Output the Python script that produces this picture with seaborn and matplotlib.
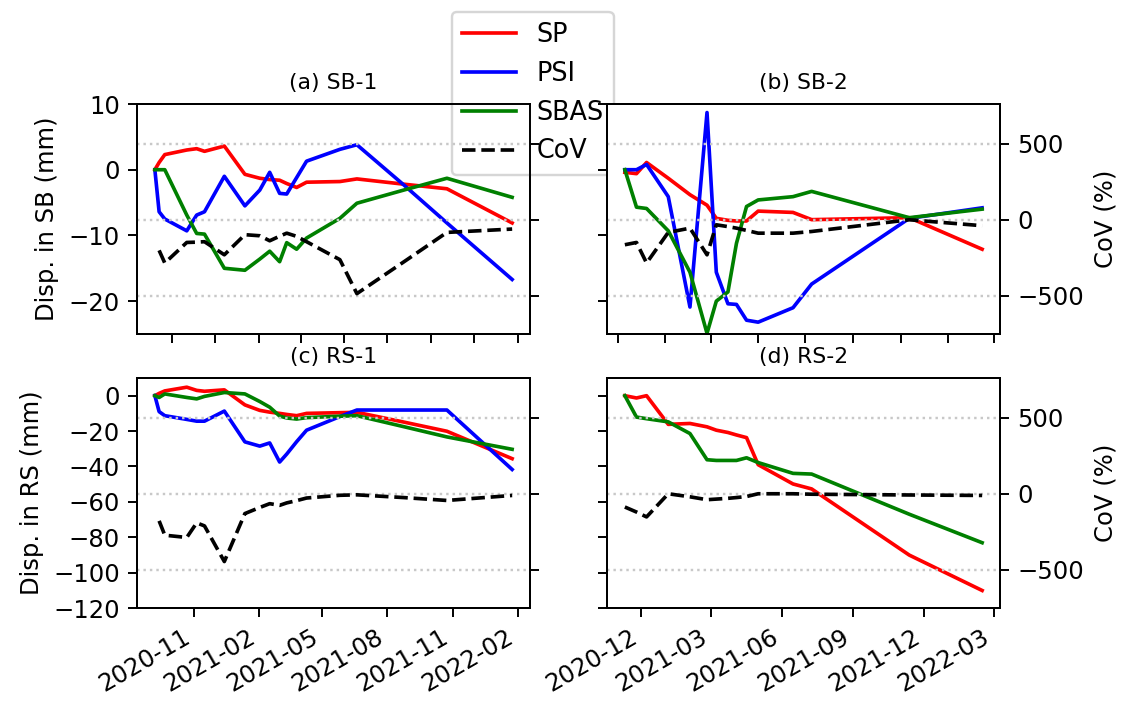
import numpy as np
import pandas as pd
import matplotlib
matplotlib.use("Agg")
import matplotlib.pyplot as plt
import matplotlib.dates as mdates
import seaborn as sns

nan = np.nan

# ---------------- data ----------------
dates_1 = ["2020-09-07", "2020-09-13", "2020-09-21", "2020-10-22", "2020-11-05",
           "2020-11-16", "2020-12-14", "2021-01-12", "2021-02-02", "2021-02-16",
           "2021-03-02", "2021-03-12", "2021-03-26", "2021-04-09", "2021-05-26",
           "2021-06-19", "2021-08-24", "2021-10-24", "2022-01-24"]
dates_2 = ["2020-11-10", "2020-11-25", "2020-12-08", "2021-01-05", "2021-02-02",
           "2021-02-24", "2021-03-08", "2021-03-23", "2021-04-03", "2021-04-16",
           "2021-05-01", "2021-06-15", "2021-07-09", "2021-11-12", "2022-02-14"]

sb1_sp = [0, 1.1, 2.3, 3.0, 3.2, 2.8, 3.6, -0.7, -1.3, -1.5, -1.6, -2.1, -2.7, -1.9, -1.8, -1.4, -2.2, -2.9, -8.1]
sb1_psi = [0, -6.4, -7.5, -9.3, -6.9, -6.4, -1.0, -5.5, -3.1, -0.4, -3.6, -3.7, -1.2, 1.3, 3.1, 3.8, -2.3, -8.1, -16.7]
sb1_sbas = [0, 0, 0, -6.9, -9.7, -9.8, -15.0, -15.3, -13.6, -12.4, -14.0, -11.1, -12.1, -10.4, -7.4, -5.1, -3.1, -1.3, -4.2]
sb1_cov = [nan, -201, -284, -149, -147, -144, -230, -98, -105, -138, -108, -88, -109, -144, -262, -485, -277, -83, -61]

sb2_sp = [-0.4, -0.6, 1.1, -1.3, -3.8, -5.4, -7.4, -7.7, -7.8, -7.8, -6.3, -6.5, -7.6, -7.3, -12.1]
sb2_psi = [0, 0, 0.8, -4.1, -20.9, 8.7, -15.6, -20.4, -20.5, -22.9, -23.2, -21.0, -17.4, -7.4, -5.8]
sb2_sbas = [0, -5.7, -5.9, -9.3, -15.6, -24.9, -20.0, -18.6, -11.2, -5.6, -4.6, -4.1, -3.3, -7.3, -6.0]
sb2_cov = [-164, -149, -284, -83, -55, -230, -33, -45, -55, -70, -88, -88, -77, 0, -39]

rs1_sp = [0, 1.3, 2.7, 4.8, 3.0, 2.5, 3.3, -5.2, -8.3, -9.3, -10.0, -10.6, -11.3, -10.0, -9.6, -9.4, -14.9, -20.1, -35.6]
rs1_psi = [0, -9.0, -11.3, -13.4, -14.4, -14.4, -8.7, -26.1, -28.5, -26.7, -37.5, -33.0, -26.0, -19.5, -11.8, -8.1, -8.1, -8.1, -41.7]
rs1_sbas = [0, -1.0, 1.0, -1.0, -1.8, -0.4, 1.8, 1.0, -3.3, -6.5, -11.5, -12.6, -13.2, -12.4, -11.6, -11.3, -17.5, -23.3, -30.3]
rs1_cov = [nan, -178, -272, -287, -191, -211, -445, -130, -90, -65, -76, -60, -45, -28, -10, -7, -25, -44, -11]

rs2_sp = [0, -1.3, 0, -16.2, -15.7, -17.6, -19.5, -20.8, -22.2, -23.7, -39.0, -49.9, -52.7, -90.1, -110.1]
rs2_sbas = [0, -12.1, -13.0, -14.8, -21.4, -36.2, -36.6, -36.6, -36.6, -35.1, -37.8, -43.9, -44.3, -67.0, -83.1]
rs2_cov = [-87, -120, -152, 0, -20, -39, -35, -30, -25, -18, 0, 0, -3, -8, -11]

titles = ["(a) SB-1", "(b) SB-2", "(c) RS-1", "(d) RS-2"]
ylabels = ["Disp. in SB (mm)", "Disp. in RS (mm)"]
cov_label = "CoV (%)"
top_ticks_1 = ["2020-10-01", "2020-12-01", "2021-02-01", "2021-04-01", "2021-06-01",
               "2021-08-01", "2021-10-01", "2021-12-01", "2022-02-01"]
top_ticks_2 = ["2020-11-01", "2021-01-01", "2021-03-01", "2021-05-01", "2021-07-01",
               "2021-09-01", "2021-11-01", "2022-01-01", "2022-03-01"]
bot_ticks_1 = ["2020-11-01", "2021-02-01", "2021-05-01", "2021-08-01", "2021-11-01", "2022-02-01"]
bot_ticks_2 = ["2020-12-01", "2021-03-01", "2021-06-01", "2021-09-01", "2021-12-01", "2022-03-01"]

# ---------------- style ----------------
plt.rcParams.update({
    "font.family": ["DejaVu Sans"],
    "font.size": 10,
    "axes.titlesize": 9,
    "axes.labelsize": 10,
    "xtick.labelsize": 10,
    "ytick.labelsize": 10,
    "legend.fontsize": 10.5,
})

DPI = 175
fig = plt.figure(figsize=(1123 / DPI, 702 / DPI), dpi=DPI)
W, H = 393 / 1123, 230 / 702
lefts = [137 / 1123, 607 / 1123]
bottoms = [1 - 334 / 702, 1 - 608 / 702]


def panel(pos, dates, sp, psi, sbas, cov, title):
    ax = fig.add_axes(pos)
    d = pd.to_datetime(dates)
    sns.lineplot(x=d, y=sp, ax=ax, color="red", label="SP", legend=False)
    if psi is not None:
        sns.lineplot(x=d, y=psi, ax=ax, color="blue", label="PSI", legend=False)
    sns.lineplot(x=d, y=sbas, ax=ax, color="green", label="SBAS", legend=False)
    ax2 = ax.twinx()
    sns.lineplot(x=d, y=cov, ax=ax2, color="black", linestyle="--", label="CoV", legend=False)
    ax2.set_ylim(-750, 760)
    ax2.set_yticks([-500, 0, 500])
    ax2.grid(axis="y", linestyle=":", color="#c8c8c8", linewidth=1.0)
    ax2.set_ylabel("")
    ax.set_xlabel("")
    ax.set_ylabel("")
    ax.set_title(title)
    return ax, ax2


ax_a, tw_a = panel([lefts[0], bottoms[0], W, H], dates_1, sb1_sp, sb1_psi, sb1_sbas, sb1_cov, titles[0])
ax_b, tw_b = panel([lefts[1], bottoms[0], W, H], dates_2, sb2_sp, sb2_psi, sb2_sbas, sb2_cov, titles[1])
ax_c, tw_c = panel([lefts[0], bottoms[1], W, H], dates_1, rs1_sp, rs1_psi, rs1_sbas, rs1_cov, titles[2])
ax_d, tw_d = panel([lefts[1], bottoms[1], W, H], dates_2, rs2_sp, None, rs2_sbas, rs2_cov, titles[3])

for ax in (ax_a, ax_b):
    ax.set_ylim(-25, 10)
    ax.set_yticks([-20, -10, 0, 10])
for ax in (ax_c, ax_d):
    ax.set_ylim(-120, 10)
    ax.set_yticks(list(range(-120, 1, 20)))

ax_a.set_ylabel(ylabels[0])
ax_c.set_ylabel(ylabels[1])
ax_b.tick_params(labelleft=False)
ax_d.tick_params(labelleft=False)
tw_a.tick_params(labelright=False)
tw_c.tick_params(labelright=False)
tw_b.set_ylabel(cov_label)
tw_d.set_ylabel(cov_label)

fmt = mdates.DateFormatter("%Y-%m")
for ax, ticks in ((ax_a, top_ticks_1), (ax_b, top_ticks_2)):
    ax.set_xticks(pd.to_datetime(ticks))
    ax.tick_params(labelbottom=False)
for ax, ticks in ((ax_c, bot_ticks_1), (ax_d, bot_ticks_2)):
    ax.set_xticks(pd.to_datetime(ticks))
    ax.xaxis.set_major_formatter(fmt)
    for lab in ax.get_xticklabels():
        lab.set_rotation(30)
        lab.set_ha("right")

h1, l1 = ax_a.get_legend_handles_labels()
h2, l2 = tw_a.get_legend_handles_labels()
ax_a.legend(h1 + h2, l1 + l2, loc="upper left",
            bbox_to_anchor=(452 / 1123, 1 - 12 / 702),
            bbox_transform=fig.transFigure, borderaxespad=0,
            handlelength=2.1)

fig.savefig("out.png", dpi=DPI)
